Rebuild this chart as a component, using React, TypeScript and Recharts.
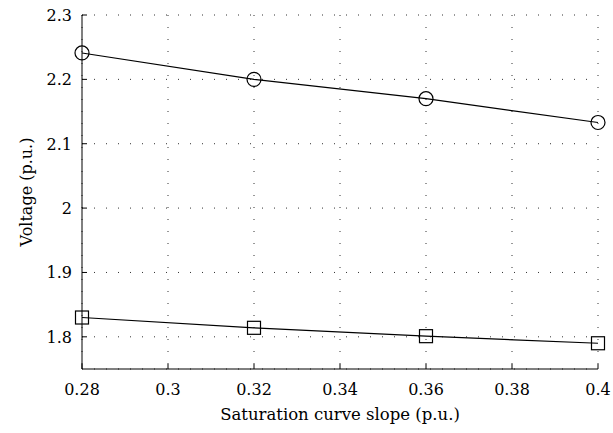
import React from 'react';
import { LineChart, Line, XAxis, YAxis, CartesianGrid } from 'recharts';

const slopes = [0.28, 0.32, 0.36, 0.4];
const upperVoltage = [2.241, 2.2, 2.17, 2.133];
const lowerVoltage = [1.83, 1.814, 1.801, 1.79];
const xTicks = [0.28, 0.3, 0.32, 0.34, 0.36, 0.38, 0.4];
const yTicks = [1.8, 1.9, 2.0, 2.1, 2.2, 2.3];

const data = slopes.map((s, i) => ({ x: s, upper: upperVoltage[i], lower: lowerVoltage[i] }));

const FONT = 'DejaVu Serif';
const FS = 16;
const TL = 5;

const fmt = (v: number) => String(Number(v.toFixed(2)));

const BottomTick = (p: any) => (
  <g>
    <line x1={p.x} x2={p.x} y1={p.y} y2={p.y - TL} stroke="#000" />
    <text x={p.x} y={p.y + 26} textAnchor="middle" fontFamily={FONT} fontSize={FS} fill="#000">{fmt(p.payload.value)}</text>
  </g>
);
const TopTick = (p: any) => (
  <line x1={p.x} x2={p.x} y1={p.y} y2={p.y + TL} stroke="#000" />
);
const LeftTick = (p: any) => (
  <g>
    <line x1={p.x} x2={p.x + TL} y1={p.y} y2={p.y} stroke="#000" />
    <text x={p.x - 10} y={p.y + 6} textAnchor="end" fontFamily={FONT} fontSize={FS} fill="#000">{fmt(p.payload.value)}</text>
  </g>
);
const RightTick = (p: any) => (
  <line x1={p.x} x2={p.x - TL} y1={p.y} y2={p.y} stroke="#000" />
);

const CircleDot = (p: any) => (
  <circle cx={p.cx} cy={p.cy} r={7} fill="none" stroke="#000" strokeWidth={1.2} />
);
const SquareDot = (p: any) => (
  <rect x={p.cx - 6.5} y={p.cy - 6.5} width={13} height={13} fill="none" stroke="#000" strokeWidth={1.2} />
);

export default function App() {
  return (
    <div style={{ position: 'fixed', left: 0, top: 0, background: '#fff' }}>
      <LineChart width={613} height={433} data={data} margin={{ top: 15, right: 15, left: 0, bottom: 0 }}>
        <CartesianGrid xAxisId="b" yAxisId="l" stroke="#333" strokeDasharray="1 11" vertical horizontal />
        <XAxis xAxisId="b" dataKey="x" type="number" domain={[0.28, 0.4]} ticks={xTicks} height={64}
          tickSize={0} tickMargin={0} tick={<BottomTick />} axisLine={{ stroke: '#000' }} interval={0}
          label={{ value: 'Saturation curve slope (p.u.)', position: 'insideBottom', offset: 13, fontFamily: FONT, fontSize: 16.5, fill: '#000' }} />
        <XAxis xAxisId="t" orientation="top" dataKey="x" type="number" domain={[0.28, 0.4]} ticks={xTicks} height={0}
          tickSize={0} tickMargin={0} tick={<TopTick />} axisLine={{ stroke: '#000' }} interval={0} />
        <YAxis yAxisId="l" type="number" domain={[1.75, 2.3]} ticks={yTicks} width={82}
          tickSize={0} tickMargin={0} tick={<LeftTick />} axisLine={{ stroke: '#000' }} interval={0}
          label={{ value: 'Voltage (p.u.)', angle: -90, position: 'insideLeft', offset: 26, fontFamily: FONT, fontSize: FS, fill: '#000', style: { textAnchor: 'middle' } }} />
        <YAxis yAxisId="r" orientation="right" type="number" domain={[1.75, 2.3]} ticks={yTicks} width={0}
          tickSize={0} tickMargin={0} tick={<RightTick />} axisLine={{ stroke: '#000' }} interval={0} />
        <Line xAxisId="b" yAxisId="l" dataKey="upper" stroke="#000" strokeWidth={1.2} dot={<CircleDot />} isAnimationActive={false} />
        <Line xAxisId="b" yAxisId="l" dataKey="lower" stroke="#000" strokeWidth={1.2} dot={<SquareDot />} isAnimationActive={false} />
      </LineChart>
    </div>
  );
}
